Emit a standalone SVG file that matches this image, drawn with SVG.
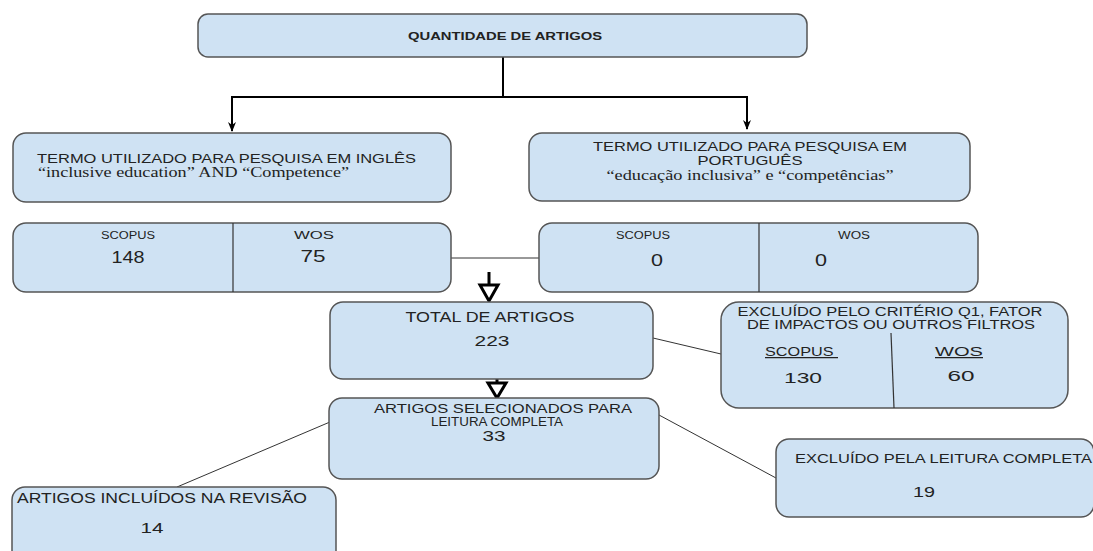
<svg xmlns="http://www.w3.org/2000/svg" width="1093" height="551" viewBox="0 0 1093 551">
<style>
.box{fill:#cfe2f3;stroke:#555;stroke-width:1.5}
.div{stroke:#333;stroke-width:1.2;fill:none}
.t{font-family:"Liberation Sans",Arial,sans-serif;fill:#222}
.s{font-family:"Liberation Serif","Times New Roman",serif;fill:#222}
.con{stroke:#333;stroke-width:1;fill:none}
.thick{stroke:#000;stroke-width:3;fill:none}
.hollow{stroke:#000;stroke-width:3;fill:#fff;stroke-linejoin:miter}
</style>
<defs>
<marker id="ah" markerWidth="10" markerHeight="10" refX="9" refY="5" orient="auto" markerUnits="userSpaceOnUse">
<path d="M0,1 L10,5 L0,9 L3,5 Z" fill="#000"/>
</marker>
</defs>
<rect width="1093" height="551" fill="#fff"/>
<g id="connectors">
<line x1="503" y1="57" x2="503" y2="97" style="stroke:#000;stroke-width:2"/>
<polyline points="232,97 747,97" style="stroke:#000;stroke-width:2;fill:none"/>
<line x1="232" y1="96" x2="232" y2="131" style="stroke:#000;stroke-width:2" marker-end="url(#ah)"/>
<line x1="747" y1="96" x2="747" y2="129" style="stroke:#000;stroke-width:2" marker-end="url(#ah)"/>
<line class="con" x1="451" y1="258" x2="539" y2="258"/>
<line class="thick" x1="489" y1="272" x2="489" y2="285"/>
<polygon class="hollow" points="480,285 498,285 489,301"/>
<line class="thick" x1="497" y1="370" x2="497" y2="383"/>
<polygon class="hollow" points="488,383 506,383 497,398"/>
<line class="con" x1="653" y1="338" x2="721" y2="354"/>
<line class="con" x1="659" y1="415" x2="776" y2="478"/>
<line class="con" x1="177" y1="487" x2="337" y2="419"/>
</g>
<g id="n-quantidade">
<rect class="box" x="198" y="14" width="609" height="43" rx="10"/>
<text class="t" x="408" y="40" font-size="11.5" font-weight="bold" textLength="194" lengthAdjust="spacingAndGlyphs">QUANTIDADE DE ARTIGOS</text>
</g>
<g id="n-ingles">
<rect class="box" x="13" y="133" width="438" height="69" rx="13"/>
<text class="t" x="37" y="163" font-size="13.5" textLength="379" lengthAdjust="spacingAndGlyphs">TERMO UTILIZADO PARA PESQUISA EM INGLÊS</text>
<text class="s" x="38" y="177" font-size="14" textLength="311" lengthAdjust="spacingAndGlyphs">“inclusive education” AND “Competence”</text>
</g>
<g id="n-portugues">
<rect class="box" x="529" y="133" width="441" height="68" rx="13"/>
<text class="t" x="750" y="151" font-size="13" text-anchor="middle" textLength="314" lengthAdjust="spacingAndGlyphs">TERMO UTILIZADO PARA PESQUISA EM</text>
<text class="t" x="750" y="165" font-size="13" text-anchor="middle" textLength="105" lengthAdjust="spacingAndGlyphs">PORTUGUÊS</text>
<text class="s" x="750" y="180" font-size="14" text-anchor="middle" textLength="287" lengthAdjust="spacingAndGlyphs">“educação inclusiva” e “competências”</text>
</g>
<g id="n-bases-ingles">
<rect class="box" x="13" y="223" width="438" height="69" rx="13"/>
<line class="div" x1="233" y1="223" x2="233" y2="292"/>
<text class="t" x="128" y="239" font-size="10" text-anchor="middle" textLength="54" lengthAdjust="spacingAndGlyphs">SCOPUS</text>
<text class="t" x="128" y="263" font-size="16.5" text-anchor="middle" textLength="33" lengthAdjust="spacingAndGlyphs">148</text>
<text class="t" x="314" y="239" font-size="10" text-anchor="middle" textLength="40" lengthAdjust="spacingAndGlyphs">WOS</text>
<text class="t" x="313" y="262" font-size="16.5" text-anchor="middle" textLength="25" lengthAdjust="spacingAndGlyphs">75</text>
</g>
<g id="n-bases-portugues">
<rect class="box" x="539" y="223" width="439" height="69" rx="13"/>
<line class="div" x1="759" y1="223" x2="759" y2="292"/>
<text class="t" x="643" y="239" font-size="10" text-anchor="middle" textLength="54" lengthAdjust="spacingAndGlyphs">SCOPUS</text>
<text class="t" x="657" y="266" font-size="16.5" text-anchor="middle" textLength="12" lengthAdjust="spacingAndGlyphs">0</text>
<text class="t" x="854" y="239" font-size="10" text-anchor="middle" textLength="32" lengthAdjust="spacingAndGlyphs">WOS</text>
<text class="t" x="821" y="266" font-size="16.5" text-anchor="middle" textLength="12" lengthAdjust="spacingAndGlyphs">0</text>
</g>
<g id="n-total">
<rect class="box" x="330" y="302" width="323" height="77" rx="13"/>
<text class="t" x="490" y="322" font-size="14" text-anchor="middle" textLength="169" lengthAdjust="spacingAndGlyphs">TOTAL DE ARTIGOS</text>
<text class="t" x="492" y="346" font-size="14.5" text-anchor="middle" textLength="35" lengthAdjust="spacingAndGlyphs">223</text>
</g>
<g id="n-excluido-q1">
<rect class="box" x="721" y="302" width="347" height="106" rx="18"/>
<line class="div" x1="891" y1="333" x2="894" y2="408"/>
<text class="t" x="890" y="316" font-size="12" text-anchor="middle" textLength="305" lengthAdjust="spacingAndGlyphs">EXCLUÍDO PELO CRITÉRIO Q1, FATOR</text>
<text class="t" x="891" y="329" font-size="12" text-anchor="middle" textLength="288" lengthAdjust="spacingAndGlyphs">DE IMPACTOS OU OUTROS FILTROS</text>
<text class="t" x="765" y="356" font-size="12.5" text-decoration="underline" textLength="73" lengthAdjust="spacingAndGlyphs">SCOPUS&#160;</text>
<text class="t" x="935" y="356" font-size="12.5" text-decoration="underline" textLength="48" lengthAdjust="spacingAndGlyphs">WOS</text>
<text class="t" x="803" y="383" font-size="15.5" text-anchor="middle" textLength="38" lengthAdjust="spacingAndGlyphs">130</text>
<text class="t" x="961" y="381" font-size="15.5" text-anchor="middle" textLength="27" lengthAdjust="spacingAndGlyphs">60</text>
</g>
<g id="n-selecionados">
<rect class="box" x="329" y="398" width="330" height="81" rx="13"/>
<text class="t" x="503" y="413" font-size="13.5" text-anchor="middle" textLength="258" lengthAdjust="spacingAndGlyphs">ARTIGOS SELECIONADOS PARA</text>
<text class="t" x="497" y="426" font-size="13.5" text-anchor="middle" textLength="132" lengthAdjust="spacingAndGlyphs">LEITURA COMPLETA</text>
<text class="t" x="494" y="441" font-size="14.5" text-anchor="middle" textLength="23" lengthAdjust="spacingAndGlyphs">33</text>
</g>
<g id="n-excluido-leitura">
<rect class="box" x="776" y="439" width="318" height="78" rx="13"/>
<text class="t" x="795" y="463" font-size="13.5" textLength="297" lengthAdjust="spacingAndGlyphs">EXCLUÍDO PELA LEITURA COMPLETA</text>
<text class="t" x="924" y="497" font-size="14.5" text-anchor="middle" textLength="22" lengthAdjust="spacingAndGlyphs">19</text>
</g>
<g id="n-incluidos">
<rect class="box" x="12" y="487" width="324" height="80" rx="13"/>
<text class="t" x="17" y="503" font-size="14" textLength="290" lengthAdjust="spacingAndGlyphs">ARTIGOS INCLUÍDOS NA REVISÃO</text>
<text class="t" x="152" y="533" font-size="14.5" text-anchor="middle" textLength="23" lengthAdjust="spacingAndGlyphs">14</text>
</g>
</svg>
